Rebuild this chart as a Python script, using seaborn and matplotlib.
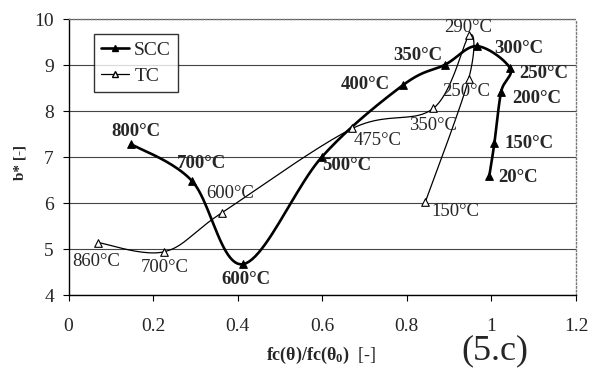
import matplotlib
matplotlib.use("Agg")
import matplotlib.pyplot as plt
from matplotlib.lines import Line2D
import seaborn as sns
import numpy as np

# SCC series (filled triangles, thick line)
scc_x = [0.148, 0.292, 0.413, 0.599, 0.792, 0.891, 0.966, 1.044, 1.023, 1.007, 0.995]
scc_y = [7.28, 6.48, 4.67, 7.00, 8.57, 9.01, 9.41, 8.93, 8.42, 7.30, 6.59]
scc_temps = ["800°C", "700°C", "600°C", "500°C", "400°C", "350°C", "300°C", "250°C", "200°C", "150°C", "20°C"]

# TC series (open triangles, thin line)
tc_x = [0.070, 0.226, 0.363, 0.671, 0.863, 0.948, 0.946, 0.844]
tc_y = [5.14, 4.94, 5.79, 7.62, 8.06, 9.65, 8.69, 6.03]
tc_temps = ["860°C", "700°C", "600°C", "475°C", "350°C", "290°C", "250°C", "150°C"]

x_ticks = [0, 0.2, 0.4, 0.6, 0.8, 1.0, 1.2]
x_ticklabels = ["0", "0.2", "0.4", "0.6", "0.8", "1", "1.2"]
y_ticks = [4, 5, 6, 7, 8, 9, 10]

# label offsets in pixels (dx, dy) relative to each point
scc_offsets = [(5, 13), (10, 17), (3, -15), (25, -9), (-38, 0), (-28, 9), (42, -2),
               (34, -5), (36, -7), (35, 0), (29, -2)]
tc_offsets = [(-2, -19), (1, -16), (8, 19), (25, -12), (0, -17), (-1, 8), (-2, -12), (30, -10)]


def smooth(xs, ys, sx=423.5, sy=46.0, n=24):
    """Excel-like smoothed line (Catmull-Rom as cubic Bezier) in screen units"""
    p = np.column_stack([np.asarray(xs) * sx, np.asarray(ys) * sy])
    p = np.vstack([p[0], p, p[-1]])
    out = []
    t = np.linspace(0, 1, n)[:, None]
    for i in range(1, len(p) - 2):
        p0, p1, p2, p3 = p[i - 1], p[i], p[i + 1], p[i + 2]
        c1 = p1 + (p2 - p0) / 6
        c2 = p2 - (p3 - p1) / 6
        seg = ((1 - t) ** 3) * p1 + 3 * ((1 - t) ** 2) * t * c1 + 3 * (1 - t) * t ** 2 * c2 + t ** 3 * p2
        out.append(seg if i == 1 else seg[1:])
    out = np.vstack(out)
    return out[:, 0] / sx, out[:, 1] / sy


sns.set_style("white")
plt.rcParams["font.family"] = ["Liberation Serif", "DejaVu Serif"]
plt.rcParams["mathtext.fontset"] = "custom"
plt.rcParams["mathtext.rm"] = "Liberation Serif"
plt.rcParams["mathtext.bf"] = "Liberation Serif:bold"
plt.rcParams["mathtext.it"] = "Liberation Serif:italic"

fig = plt.figure(figsize=(5.94, 3.81), dpi=100)
ax = fig.add_axes([68.5 / 594, 1 - 295 / 381, 507.5 / 594, 276 / 381])

sx_, sy_ = smooth(tc_x, tc_y)
sns.lineplot(x=sx_, y=sy_, sort=False, color="black", linewidth=0.9, ax=ax, zorder=3)
sx_, sy_ = smooth(scc_x, scc_y)
sns.lineplot(x=sx_, y=sy_, sort=False, color="black", linewidth=1.9, ax=ax, zorder=4)

sns.scatterplot(x=tc_x, y=tc_y, marker="^", s=30, facecolor="white", edgecolor="black",
                linewidth=0.8, ax=ax, zorder=5)
sns.scatterplot(x=scc_x, y=scc_y, marker="^", s=30, color="black", edgecolor="black",
                linewidth=0.8, ax=ax, zorder=6)

for xv, yv, lab, off in zip(scc_x, scc_y, scc_temps, scc_offsets):
    ax.annotate(lab, (xv, yv), xytext=off, textcoords="offset pixels",
                ha="center", va="center", fontsize=13.5, fontweight="bold", zorder=7)
for xv, yv, lab, off in zip(tc_x, tc_y, tc_temps, tc_offsets):
    ax.annotate(lab, (xv, yv), xytext=off, textcoords="offset pixels",
                ha="center", va="center", fontsize=13.5, zorder=7)

ax.set_xlim(0, 1.2)
ax.set_ylim(4, 10)
ax.set_xticks(x_ticks)
ax.set_xticklabels(x_ticklabels)
ax.set_yticks(y_ticks)
ax.tick_params(axis="both", direction="out", length=4.5, width=0.8, color="black",
               labelsize=14, left=True, bottom=True)
ax.tick_params(axis="x", pad=12)
ax.tick_params(axis="y", pad=6)
ax.yaxis.grid(True, color="#444444", linewidth=0.8)
ax.xaxis.grid(False)
for side in ["left", "bottom"]:
    ax.spines[side].set_color("black")
    ax.spines[side].set_linewidth(1.0)
for side in ["top", "right"]:
    ax.spines[side].set_color("#777777")
    ax.spines[side].set_linestyle(":")
    ax.spines[side].set_linewidth(1.0)

fig.text(20 / 594, 1 - 162 / 381, "b* [-]", rotation=90, ha="center", va="center",
         fontsize=11, fontweight="bold")

handles = [
    Line2D([], [], color="black", linewidth=1.9, marker="^", markersize=5,
           markerfacecolor="black"),
    Line2D([], [], color="black", linewidth=0.9, marker="^", markersize=5,
           markerfacecolor="white"),
]
leg = ax.legend(handles, ["SCC", "TC"], loc="upper left", bbox_to_anchor=(0.051, 0.945),
                fontsize=14, frameon=True, fancybox=False, handlelength=1.45,
                handletextpad=0.25, borderpad=0.35, labelspacing=0.45, borderaxespad=0)
leg.get_frame().set_edgecolor("black")
leg.get_frame().set_linewidth(1.0)

fig.text(321 / 594, 1 - 355 / 381, r"$\mathbf{fc(θ)/fc(θ_0)}$  [-]", ha="center",
         va="center", fontsize=13)
fig.text(495 / 594, 1 - 351 / 381, "(5.c)", ha="center", va="center", fontsize=26)

fig.savefig("out.png", dpi=100)
